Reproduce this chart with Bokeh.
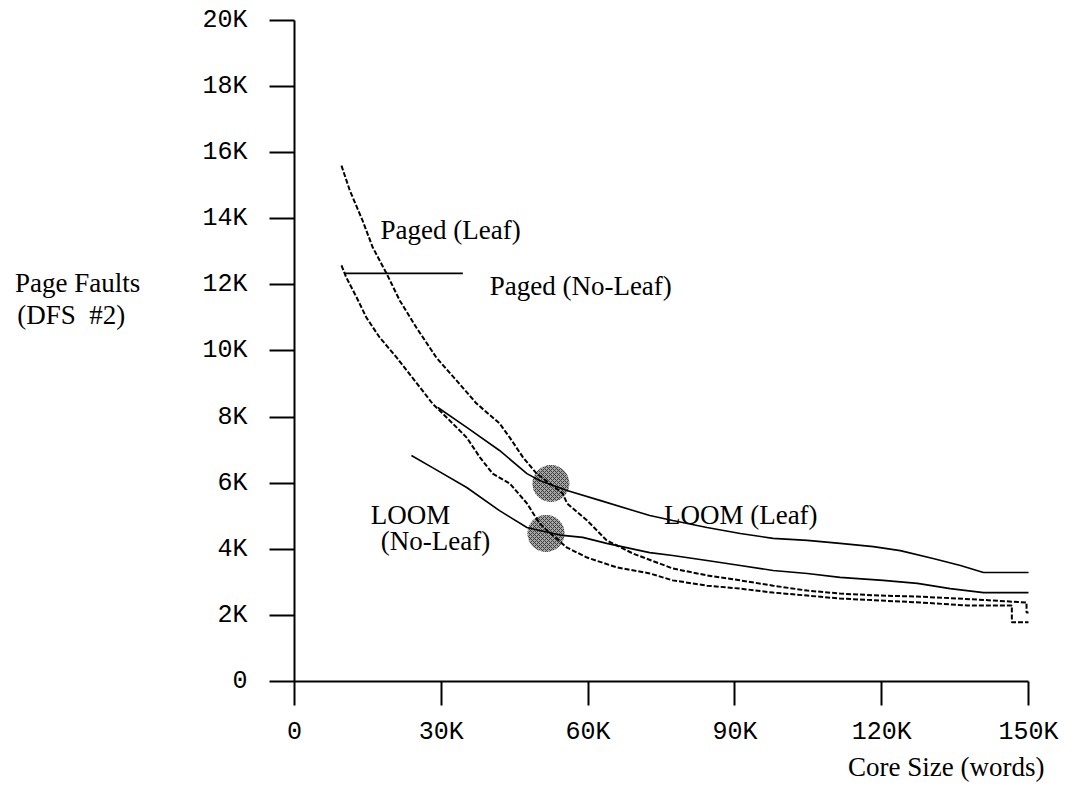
from bokeh.plotting import figure
from bokeh.models import Range1d, FixedTicker, Label
from bokeh.embed import file_html
from bokeh.resources import INLINE

# ---- data (thousands of words / thousands of page faults) ----
paged_leaf_x = [9.6, 11.3, 13.9, 16.0, 18.8, 21.5, 24.9, 29.0, 33.1, 37.2, 41.9, 44.0, 46.7,
                49.5, 52.2, 54.8, 55.7, 59.8, 63.8, 69.2, 77.3, 84.3, 91.1, 97.8, 104.8,
                111.5, 119.7, 127.3, 135.5, 142.8, 149.6, 149.6, 150.0]
paged_leaf_y = [15.61, 14.86, 13.95, 13.13, 12.35, 11.53, 10.71, 9.80, 9.11, 8.41, 7.81, 7.38, 6.78,
                6.29, 5.99, 5.69, 5.39, 4.87, 4.27, 3.87, 3.42, 3.21, 3.06, 2.90, 2.75,
                2.66, 2.60, 2.57, 2.51, 2.45, 2.39, 2.09, 2.09]

paged_noleaf_x = [9.6, 10.6, 12.7, 14.7, 17.4, 20.9, 25.0, 28.2, 31.7, 35.2, 37.9, 40.5, 44.0,
                  47.5, 50.1, 51.6, 55.7, 59.8, 65.9, 72.6, 77.3, 84.3, 91.1, 97.8, 104.8,
                  111.5, 119.7, 127.9, 137.5, 146.6, 146.6, 150.0]
paged_noleaf_y = [12.59, 12.22, 11.62, 11.01, 10.41, 9.80, 9.02, 8.41, 7.90, 7.38, 6.78, 6.29, 5.99,
                  5.39, 4.78, 4.57, 4.05, 3.75, 3.45, 3.27, 3.06, 2.90, 2.81, 2.69, 2.60,
                  2.51, 2.45, 2.39, 2.30, 2.30, 1.79, 1.79]

loom_leaf_x = [29.3, 35.2, 41.9, 47.5, 50.1, 55.7, 62.4, 72.6, 77.3, 84.3, 91.1, 97.8, 104.8,
               111.5, 118.3, 123.8, 130.5, 136.1, 140.8, 150.0]
loom_leaf_y = [8.29, 7.69, 6.99, 6.29, 6.08, 5.78, 5.48, 5.02, 4.87, 4.66, 4.48, 4.33, 4.27,
               4.18, 4.08, 3.96, 3.72, 3.51, 3.30, 3.30]

loom_noleaf_x = [23.9, 28.2, 35.2, 41.9, 47.5, 50.1, 54.8, 58.9, 63.8, 72.6, 77.3, 84.3, 91.1,
                 97.8, 104.8, 111.5, 120.3, 127.3, 134.0, 140.8, 150.0]
loom_noleaf_y = [6.84, 6.47, 5.87, 5.17, 4.66, 4.57, 4.42, 4.36, 4.18, 3.90, 3.81, 3.66, 3.51,
                 3.36, 3.27, 3.15, 3.06, 2.97, 2.81, 2.69, 2.69]

# leader line from the "Paged (No-Leaf)" label
leader_x = [10.2, 34.4]
leader_y = [12.35, 12.35]

# crossover points (shaded discs)
crossover_x = [52.4, 51.4]
crossover_y = [5.99, 4.48]

x_ticks = [0, 30, 60, 90, 120, 150]
x_tick_labels = ["0", "30K", "60K", "90K", "120K", "150K"]
y_ticks = [0, 2, 4, 6, 8, 10, 12, 14, 16, 18, 20]
y_tick_labels = ["0", "2K", "4K", "6K", "8K", "10K", "12K", "14K", "16K", "18K", "20K"]

SERIF = "Liberation Serif"
MONO = "Liberation Mono"

# frame covers the whole canvas; axes are pinned at x=0 / y=0
p = figure(width=1071, height=790,
           x_range=Range1d(-60.08, 158.79), y_range=Range1d(-3.298, 20.605),
           output_backend="svg", toolbar_location=None,
           min_border=0, min_border_left=0, min_border_right=0,
           min_border_top=0, min_border_bottom=0)
p.outline_line_color = None
p.grid.visible = False
p.background_fill_color = "white"
p.border_fill_color = "white"

for ax, ticks, labels, tout, standoff, bounds in (
        (p.xaxis[0], x_ticks, x_tick_labels, 24, 12, (0, 150)),
        (p.yaxis[0], y_ticks, y_tick_labels, 25, 22, (0, 20))):
    ax.fixed_location = 0
    ax.bounds = bounds
    ax.ticker = FixedTicker(ticks=ticks)
    ax.major_label_overrides = dict(zip(ticks, labels))
    ax.major_tick_out = tout
    ax.major_tick_in = 0
    ax.minor_tick_line_color = None
    ax.axis_line_width = 2
    ax.major_tick_line_width = 2
    ax.axis_line_color = "black"
    ax.major_tick_line_color = "black"
    ax.major_label_text_font = MONO
    ax.major_label_text_font_size = "25px"
    ax.major_label_text_color = "black"
    ax.major_label_standoff = standoff

# shaded crossover discs
p.scatter(crossover_x, crossover_y, marker="circle", size=37, line_color=None,
          fill_color="#a6a6a6", hatch_pattern="diagonal_cross", hatch_color="#3a3a3a",
          hatch_scale=4, hatch_weight=1)

# curves
p.line(paged_leaf_x, paged_leaf_y, line_color="black", line_width=2, line_dash="5 2")
p.line(paged_noleaf_x, paged_noleaf_y, line_color="black", line_width=2, line_dash="5 2")
p.line(loom_leaf_x, loom_leaf_y, line_color="black", line_width=1.6)
p.line(loom_noleaf_x, loom_noleaf_y, line_color="black", line_width=1.6)
p.line(leader_x, leader_y, line_color="black", line_width=1.6)

def lab(x, y, text, align="center"):
    p.add_layout(Label(x=x, y=y, text=text, text_font=SERIF, text_font_size="27px",
                       text_color="black", text_align=align, text_baseline="alphabetic"))

lab(31.9, 13.65, "Paged (Leaf)")
lab(58.5, 11.98, "Paged (No-Leaf)")
lab(91.2, 5.05, "LOOM (Leaf)")
lab(23.7, 5.05, "LOOM")
lab(28.8, 4.24, "(No-Leaf)")
lab(133.2, -2.60, "Core Size (words)")
lab(-44.3, 12.05, "Page Faults")
lab(-45.6, 11.10, "(DFS \u00a0#2)")

open("out.html", "w").write(file_html(p, INLINE))
